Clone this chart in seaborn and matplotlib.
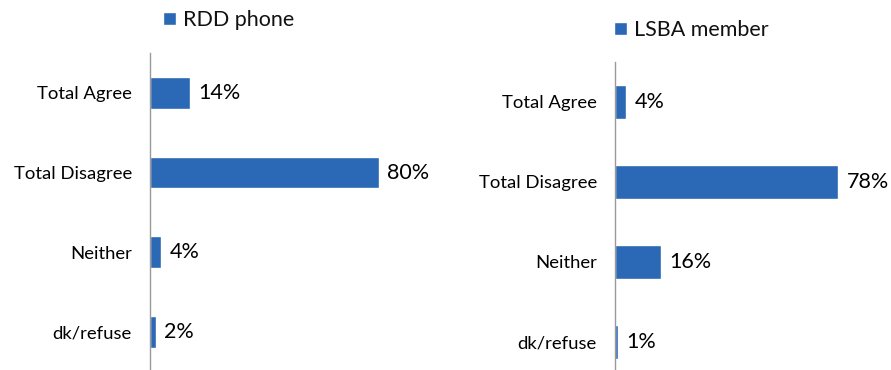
import matplotlib
matplotlib.use('Agg')
import matplotlib.pyplot as plt
import seaborn as sns
import pandas as pd

# =====================================================
# DATA
# =====================================================

categories = ['Total Agree', 'Total Disagree', 'Neither', 'dk/refuse']
rdd_phone = [14, 80, 4, 2]
lsba_member = [4, 78, 16, 1]

BAR_COLOR = '#2b68b5'
AXIS_COLOR = '#9a9a9a'

sns.set_theme(style='white')
plt.rcParams['font.family'] = ['Lato', 'DejaVu Sans']

fig = plt.figure(figsize=(8.91, 3.70), dpi=100)

# panel positions (figure fractions); the right panel sits a little lower
ax_left = fig.add_axes([150 / 891, -0.005, 272 / 891, 0.862])
ax_right = fig.add_axes([615 / 891, -0.032, 272 / 891, 0.865])


def draw_panel(ax, values, label, legend_xy, bar_width):
    df = pd.DataFrame({'category': categories, 'pct': values})
    sns.barplot(data=df, x='pct', y='category', color=BAR_COLOR,
                width=bar_width, saturation=1, label=label, ax=ax)

    for i, v in enumerate(values):
        ax.annotate(f'{v}%', xy=(v, i), xytext=(6, 0),
                    textcoords='offset points', ha='left', va='center',
                    fontsize=15.5, color='#000000')

    ax.set_xlim(0, 95)
    ax.set_ylim(3.5, -0.5)
    ax.set_xlabel('')
    ax.set_ylabel('')
    ax.set_xticks([])
    ax.tick_params(axis='y', length=0, pad=13, labelsize=13.3, labelcolor='#000000')

    for side in ['top', 'right', 'bottom']:
        ax.spines[side].set_visible(False)
    ax.spines['left'].set_color(AXIS_COLOR)
    ax.spines['left'].set_linewidth(1)

    ax.legend(loc='center left', bbox_to_anchor=legend_xy,
              bbox_transform=fig.transFigure, frameon=False,
              handlelength=0.6, handleheight=0.6, handletextpad=0.35,
              fontsize=15.5, borderaxespad=0, borderpad=0,
              labelcolor='#111111')


draw_panel(ax_left, rdd_phone, 'RDD phone', (163 / 891, 1 - 20 / 370), 0.4)
draw_panel(ax_right, lsba_member, 'LSBA member', (614 / 891, 1 - 30 / 370), 0.43)

fig.savefig('out.png', dpi=100)
